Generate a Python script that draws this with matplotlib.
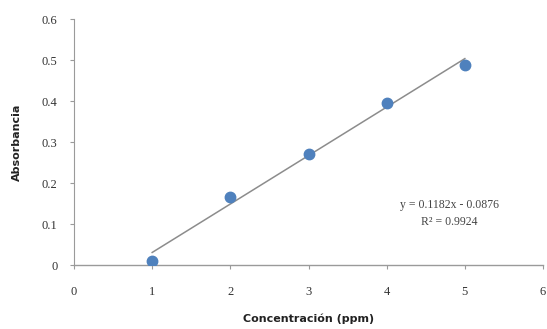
import matplotlib.pyplot as plt
import numpy as np

# calibration data
conc = [1, 2, 3, 4, 5]
absorb = [0.01, 0.165, 0.27, 0.395, 0.488]
slope = 0.1182
intercept = -0.0876
r2 = 0.9924

fig = plt.figure(figsize=(5.47, 3.29), dpi=100)
ax = fig.add_axes([0.1353, 0.1945, 0.8574, 0.7477])

# trend line over the data range
x_fit = np.array([conc[0], conc[-1]])
ax.plot(x_fit, slope * x_fit + intercept, color='#8c8c8c', lw=1.1, zorder=2)
ax.plot(conc, absorb, 'o', color='#4f81bd', ms=7.5, zorder=3)

ax.set_xlim(0, 6)
ax.set_ylim(0, 0.6)
ax.set_xticks(range(7))
ax.set_yticks([0, 0.1, 0.2, 0.3, 0.4, 0.5, 0.6])
ax.set_yticklabels(['0', '0.1', '0.2', '0.3', '0.4', '0.5', '0.6'])

for s in ['top', 'right']:
    ax.spines[s].set_visible(False)
for s in ['left', 'bottom']:
    ax.spines[s].set_color('#9a9a9a')
ax.spines['left'].set_linewidth(0.8)
ax.spines['bottom'].set_linewidth(1.0)
ax.tick_params(colors='#9a9a9a', length=3, width=0.8, labelcolor='#333333',
               labelsize=9)
ax.tick_params(axis='x', pad=12)
ax.tick_params(axis='y', pad=9)
for lab in ax.get_xticklabels() + ax.get_yticklabels():
    lab.set_family('Liberation Serif')

ax.set_xlabel('Concentración (ppm)', fontsize=8, fontweight='bold',
              color='#222222', labelpad=11)
ax.set_ylabel('Absorbancia', fontsize=8, fontweight='bold',
              color='#222222', labelpad=14)

eq = 'y = %.4fx - %.4f\nR² = %.4f' % (slope, -intercept, r2)
ax.text(4.8, 0.125, eq, ha='center', va='center', fontsize=8.5,
        family='Liberation Serif', color='#444444', linespacing=1.55)

fig.savefig('out.png', dpi=100)
